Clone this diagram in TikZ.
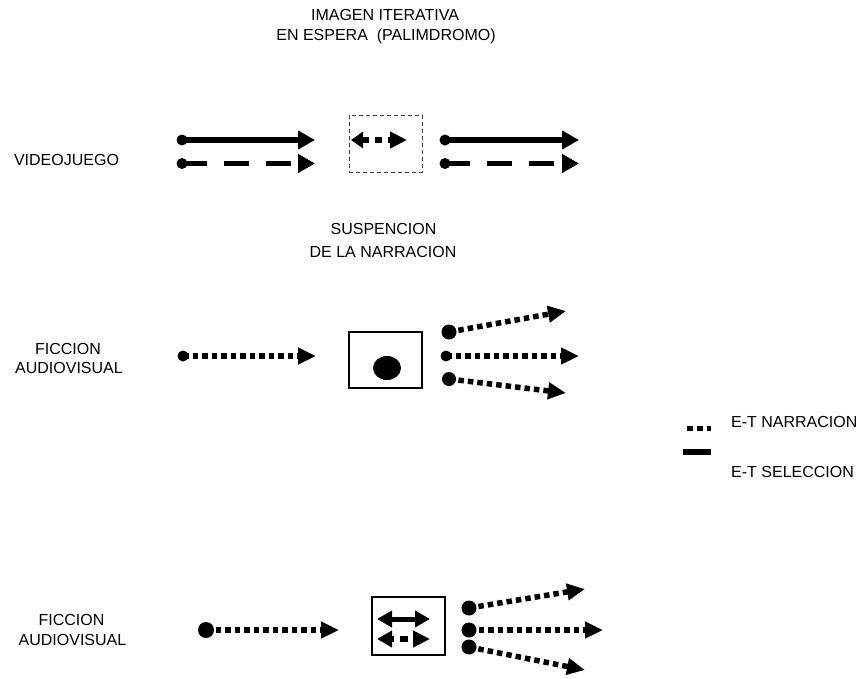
\documentclass[tikz,border=0pt]{standalone}
\usepackage{fontspec}
\setmainfont{Liberation Sans}
\usetikzlibrary{arrows.meta,shapes.geometric}

\tikzset{
  lbl/.style={inner sep=0pt, anchor=base, font=\fontsize{16}{20}\selectfont},
  lblw/.style={lbl, anchor=base west},
  dot/.style={circle, fill=black, inner sep=0pt, minimum size=#1},
  dot/.default=11pt,
  bigtip/.style={-{Triangle[length=17pt,width=18pt]}},
  sel/.style={line width=5.7pt, bigtip},
  selx/.style={line width=5.7pt, dash pattern=on 25pt off 17pt, bigtip},
  narr/.style={line width=5.5pt, dash pattern=on 5.5pt off 4pt, -{Triangle[length=18pt,width=16pt]}},
  frame/.style={draw=black, line width=1.5pt},
  dashframe/.style={draw=black!75, line width=1pt, dash pattern=on 4pt off 3pt},
}

\begin{document}
\begin{tikzpicture}[x=1pt, y=-1pt]
\useasboundingbox (0,0) rectangle (860,678);

% ---------- headings ----------
\node[lbl] (h1a) at (385,20) {IMAGEN ITERATIVA};
\node[lbl] (h1b) at (386,40) {EN ESPERA\ \ (PALIMDROMO)};
\node[lbl] (h2a) at (383.5,234) {SUSPENCION};
\node[lbl] (h2b) at (383,257) {DE LA NARRACION};

% ---------- row labels ----------
\node[lbl] (r1) at (66.5,165) {VIDEOJUEGO};
\node[lbl] (r2a) at (68,354) {FICCION};
\node[lbl] (r2b) at (69,373) {AUDIOVISUAL};
\node[lbl] (r3a) at (71.5,625) {FICCION};
\node[lbl] (r3b) at (72.5,645) {AUDIOVISUAL};

% ---------- videojuego ----------
\node[dot] (v1) at (182,140) {};
\node[dot] (v2) at (182,163.5) {};
\coordinate (v1e) at (315,140);
\coordinate (v2e) at (315,163.5);
\draw[sel] (v1.center) -- (v1e);
\draw[selx] (v2.center) -- (v2e);

\node[dashframe, minimum width=73pt, minimum height=57pt, inner sep=0pt] (box1) at (385.5,143.5) {};
\coordinate (b1l) at (351,140);
\coordinate (b1r) at (407,140);
\draw[line width=5.5pt, dash pattern=on 6.5pt off 6.5pt,
      {Triangle[length=12pt,width=16pt]}-{Triangle[length=17pt,width=16pt]}] (b1l) -- (b1r);

\node[dot] (v3) at (445,140) {};
\node[dot] (v4) at (445,163.5) {};
\coordinate (v3e) at (579,140);
\coordinate (v4e) at (579,163.5);
\draw[sel] (v3.center) -- (v3e);
\draw[selx] (v4.center) -- (v4e);

% ---------- ficcion audiovisual: suspension ----------
\node[dot=11pt] (f1) at (183,356) {};
\coordinate (f1e) at (316,356);
\draw[narr] (f1.center) -- (f1e);

\node[frame, minimum width=73pt, minimum height=56pt, inner sep=0pt] (box2) at (385.5,360) {};
\node[ellipse, fill=black, minimum width=28pt, minimum height=24pt, inner sep=0pt] (hold) at (387,368) {};

\node[dot=15pt] (g1) at (449,332) {};
\node[dot=11pt] (g2) at (446,356) {};
\node[dot=14pt] (g3) at (449,379) {};
\coordinate (g1e) at (566,311);
\coordinate (g2e) at (579,356);
\coordinate (g3e) at (566,393);
\draw[narr] (g1.center) -- (g1e);
\draw[narr] (g2.center) -- (g2e);
\draw[narr] (g3.center) -- (g3e);

% ---------- legend ----------
\coordinate (k1a) at (687,428.5);
\coordinate (k1b) at (711,428.5);
\coordinate (k2a) at (683,452);
\coordinate (k2b) at (711,452);
\draw[line width=5.5pt, dash pattern=on 6pt off 4pt] (k1a) -- (k1b);
\draw[line width=6pt] (k2a) -- (k2b);
\node[lblw] (k1) at (731,427) {E-T NARRACION};
\node[lblw] (k2) at (731,477) {E-T SELECCION};

% ---------- ficcion audiovisual: selection ----------
\node[dot=16pt] (p1) at (206,630) {};
\coordinate (p1e) at (339,630);
\draw[narr] (p1.center) -- (p1e);

\node[frame, minimum width=73pt, minimum height=58pt, inner sep=0pt] (box3) at (408.5,626) {};
\coordinate (b3a) at (377,619);
\coordinate (b3b) at (430,619);
\coordinate (b3c) at (377,639);
\coordinate (b3d) at (430,639);
\draw[line width=5pt, {Triangle[length=15pt,width=16pt]}-{Triangle[length=15pt,width=16pt]}] (b3a) -- (b3b);
\draw[line width=5.5pt, dash pattern=on 3pt off 6pt on 8pt off 6pt,
      {Triangle[length=15pt,width=16pt]}-{Triangle[length=17pt,width=16pt]}] (b3c) -- (b3d);

\node[dot=15pt] (q1) at (469,608) {};
\node[dot=15pt] (q2) at (469,630) {};
\node[dot=15pt] (q3) at (469,647) {};
\coordinate (q1e) at (585,589);
\coordinate (q2e) at (603,630);
\coordinate (q3e) at (585,670);
\draw[narr] (q1.center) -- (q1e);
\draw[narr] (q2.center) -- (q2e);
\draw[narr] (q3.center) -- (q3e);
\end{tikzpicture}
\end{document}
